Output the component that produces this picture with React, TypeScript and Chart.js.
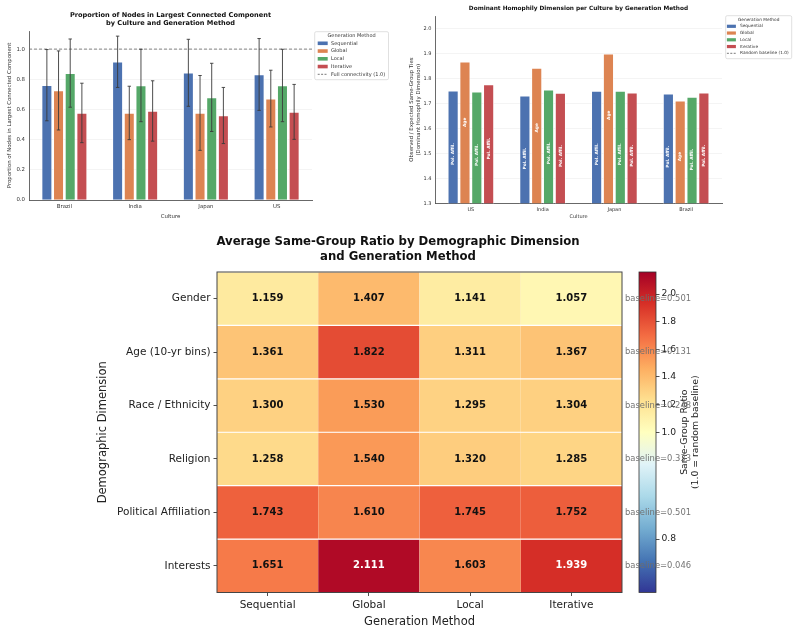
import React, { useEffect, useRef } from "react";
import { Chart, registerables } from "chart.js";
Chart.register(...registerables);

const FONT = "'DejaVu Sans', 'Liberation Sans', sans-serif";

// ---------- shared ----------
const methods = ["Sequential", "Global", "Local", "Iterative"];
const methodColors = ["#4C72B0", "#DD8452", "#55A868", "#C44E52"];

// ---------- chart 1: largest connected component ----------
const lccCultures = ["Brazil", "India", "Japan", "US"];
const lccSequential = [0.761, 0.916, 0.843, 0.832];
const lccGlobal = [0.726, 0.577, 0.577, 0.672];
const lccLocal = [0.841, 0.759, 0.680, 0.759];
const lccIterative = [0.577, 0.590, 0.560, 0.584];
const lccErrSequential = [0.236, 0.170, 0.222, 0.238];
const lccErrGlobal = [0.262, 0.177, 0.248, 0.188];
const lccErrLocal = [0.226, 0.240, 0.226, 0.240];
const lccErrIterative = [0.197, 0.200, 0.186, 0.182];
const lccTicks = [0, 0.2, 0.4, 0.6, 0.8, 1.0];
const fullConnectivity = 1.0;

// ---------- chart 2: dominant homophily ----------
const homCultures = ["US", "India", "Japan", "Brazil"];
const homSequential = [1.751, 1.731, 1.750, 1.739];
const homGlobal = [1.867, 1.842, 1.899, 1.711];
const homLocal = [1.747, 1.755, 1.750, 1.726];
const homIterative = [1.776, 1.742, 1.743, 1.743];
const domSequential = ["Pol. Affil.", "Pol. Affil.", "Pol. Affil.", "Pol. Affil."];
const domGlobal = ["Age", "Age", "Age", "Age"];
const domLocal = ["Pol. Affil.", "Pol. Affil.", "Pol. Affil.", "Pol. Affil."];
const domIterative = ["Pol. Affil.", "Pol. Affil.", "Pol. Affil.", "Pol. Affil."];
const homTicks = [1.3, 1.4, 1.5, 1.6, 1.7, 1.8, 1.9, 2.0];

// ---------- chart 3: heatmap ----------
const dimensions = ["Gender", "Age (10-yr bins)", "Race / Ethnicity", "Religion", "Political Affiliation", "Interests"];
const ratioSequential = [1.159, 1.361, 1.300, 1.258, 1.743, 1.651];
const ratioGlobal = [1.407, 1.822, 1.530, 1.540, 1.610, 2.111];
const ratioLocal = [1.141, 1.311, 1.295, 1.320, 1.745, 1.603];
const ratioIterative = [1.057, 1.367, 1.304, 1.285, 1.752, 1.939];
const baselines = [0.501, 0.131, 0.248, 0.333, 0.501, 0.046];
const colorbarTicks = [0.8, 1.0, 1.2, 1.4, 1.6, 1.8, 2.0];
const cmapMin = 0.7;
const cmapCenter = 1.0;
const cmapMax = 2.16;

const rdylbuR = ["#313695", "#4575b4", "#74add1", "#abd9e9", "#e0f3f8", "#ffffbf", "#fee090", "#fdae61", "#f46d43", "#d73027", "#a50026"];

function norm(v: number) {
  if (v < cmapCenter) return Math.max(0, 0.5 * (v - cmapMin) / (cmapCenter - cmapMin));
  return Math.min(1, 0.5 + 0.5 * (v - cmapCenter) / (cmapMax - cmapCenter));
}
function hexToRgb(h: string) {
  return [parseInt(h.slice(1, 3), 16), parseInt(h.slice(3, 5), 16), parseInt(h.slice(5, 7), 16)];
}
function cmap(t: number) {
  const p = Math.max(0, Math.min(1, t)) * 10;
  const i = Math.min(9, Math.floor(p));
  const f = p - i;
  const a = hexToRgb(rdylbuR[i]);
  const b = hexToRgb(rdylbuR[i + 1]);
  const c = a.map((x, k) => Math.round(x + (b[k] - x) * f));
  return `rgb(${c[0]},${c[1]},${c[2]})`;
}

type LegendSpec = {
  x: number; y: number; w: number; h: number; titleY: number; y0: number; dy: number;
  patchX: number; patchW: number; patchH: number; textX: number; font: number; lineLabel: string;
};

function drawLegend(ctx: CanvasRenderingContext2D, L: LegendSpec) {
  ctx.save();
  ctx.fillStyle = "rgba(255,255,255,0.9)";
  ctx.strokeStyle = "#d8d8d8";
  ctx.lineWidth = 0.8;
  ctx.beginPath();
  (ctx as any).roundRect ? (ctx as any).roundRect(L.x, L.y, L.w, L.h, 1.5) : ctx.rect(L.x, L.y, L.w, L.h);
  ctx.fill();
  ctx.stroke();
  ctx.fillStyle = "#333";
  ctx.font = `${L.font}px ${FONT}`;
  ctx.textBaseline = "middle";
  ctx.textAlign = "center";
  ctx.fillText("Generation Method", L.x + L.w / 2, L.titleY);
  ctx.textAlign = "left";
  methods.forEach((m, i) => {
    const yy = L.y0 + i * L.dy;
    ctx.fillStyle = methodColors[i];
    ctx.fillRect(L.patchX, yy - L.patchH / 2, L.patchW, L.patchH);
    ctx.fillStyle = "#333";
    ctx.fillText(m, L.textX, yy);
  });
  const yl = L.y0 + methods.length * L.dy;
  ctx.strokeStyle = "#555";
  ctx.lineWidth = 0.8;
  ctx.setLineDash([2, 1.4]);
  ctx.beginPath();
  ctx.moveTo(L.patchX, yl);
  ctx.lineTo(L.patchX + L.patchW, yl);
  ctx.stroke();
  ctx.setLineDash([]);
  ctx.fillStyle = "#333";
  ctx.fillText(L.lineLabel, L.textX, yl);
  ctx.restore();
}

function makeLcc(canvas: HTMLCanvasElement) {
  const values = [lccSequential, lccGlobal, lccLocal, lccIterative];
  const errors = [lccErrSequential, lccErrGlobal, lccErrLocal, lccErrIterative];
  const tickFont = { family: FONT, size: 5.4 };
  const plugin = {
    id: "lccExtras",
    beforeDatasetsDraw(chart: any) {
      const { ctx, chartArea } = chart;
      const y = chart.scales.y.getPixelForValue(fullConnectivity);
      ctx.save();
      ctx.strokeStyle = "#666";
      ctx.lineWidth = 0.8;
      ctx.setLineDash([3, 2]);
      ctx.beginPath();
      ctx.moveTo(chartArea.left, y);
      ctx.lineTo(chartArea.right, y);
      ctx.stroke();
      ctx.restore();
    },
    afterDatasetsDraw(chart: any) {
      const { ctx } = chart;
      const ys = chart.scales.y;
      ctx.save();
      ctx.strokeStyle = "#3a3a3a";
      ctx.lineWidth = 0.9;
      values.forEach((vals, d) => {
        const meta = chart.getDatasetMeta(d);
        meta.data.forEach((el: any, j: number) => {
          const x = el.x;
          const top = ys.getPixelForValue(vals[j] + errors[d][j]);
          const bot = ys.getPixelForValue(vals[j] - errors[d][j]);
          ctx.beginPath();
          ctx.moveTo(x, top); ctx.lineTo(x, bot);
          ctx.moveTo(x - 1.7, top); ctx.lineTo(x + 1.7, top);
          ctx.moveTo(x - 1.7, bot); ctx.lineTo(x + 1.7, bot);
          ctx.stroke();
        });
      });
      ctx.restore();
    },
    afterDraw(chart: any) {
      const { ctx, chartArea } = chart;
      const cx = (chartArea.left + chartArea.right) / 2;
      ctx.save();
      ctx.fillStyle = "#111";
      ctx.font = `bold 6.6px ${FONT}`;
      ctx.textAlign = "center";
      ctx.textBaseline = "middle";
      ctx.fillText("Proportion of Nodes in Largest Connected Component", cx, 15.3);
      ctx.fillText("by Culture and Generation Method", cx, 23);
      ctx.restore();
      drawLegend(ctx, {
        x: 314.7, y: 31.7, w: 73.8, h: 48, titleY: 35.6, y0: 43.3, dy: 7.75,
        patchX: 317.7, patchW: 10, patchH: 3.6, textX: 331, font: 5, lineLabel: "Full connectivity (1.0)",
      });
    },
  };
  return new Chart(canvas, {
    type: "bar",
    data: {
      labels: lccCultures,
      datasets: methods.map((m, i) => ({
        label: m,
        data: values[i],
        backgroundColor: methodColors[i],
        borderColor: "#ffffff",
        borderWidth: 0.8,
        categoryPercentage: 0.66,
        barPercentage: 0.91,
      })),
    },
    options: {
      animation: false,
      responsive: false,
      maintainAspectRatio: false,
      layout: { padding: { left: 0, top: 31, right: 88, bottom: 0 } },
      plugins: { legend: { display: false }, title: { display: false }, tooltip: { enabled: false } },
      scales: {
        x: {
          afterFit: (s: any) => { s.height = 22; },
          grid: { display: false, drawTicks: false },
          border: { color: "#444", width: 0.8 },
          ticks: { font: tickFont, color: "#333", padding: 3 },
          title: { display: true, text: "Culture", font: tickFont, color: "#333", padding: { top: 0, bottom: 2.5 } },
        },
        y: {
          min: 0,
          max: 1.12,
          afterFit: (s: any) => { s.width = 29; },
          afterBuildTicks: (s: any) => { s.ticks = lccTicks.map((v) => ({ value: v })); },
          grid: { color: "#ececec", lineWidth: 0.6, drawTicks: false },
          border: { color: "#444", width: 0.8 },
          ticks: { font: tickFont, color: "#333", padding: 4, callback: (v: any) => Number(v).toFixed(1) },
          title: {
            display: true,
            text: "Proportion of Nodes in Largest Connected Component",
            font: tickFont, color: "#333", padding: { top: 6, bottom: 0 },
          },
        },
      },
    },
    plugins: [plugin],
  } as any);
}

function makeHom(canvas: HTMLCanvasElement) {
  const values = [homSequential, homGlobal, homLocal, homIterative];
  const dominant = [domSequential, domGlobal, domLocal, domIterative];
  const tickFont = { family: FONT, size: 5 };
  const plugin = {
    id: "homExtras",
    afterDatasetsDraw(chart: any) {
      const { ctx } = chart;
      const ys = chart.scales.y;
      ctx.save();
      ctx.fillStyle = "#ffffff";
      ctx.font = `bold 4.3px ${FONT}`;
      ctx.textAlign = "right";
      ctx.textBaseline = "middle";
      values.forEach((vals, d) => {
        const meta = chart.getDatasetMeta(d);
        meta.data.forEach((el: any, j: number) => {
          const y = ys.getPixelForValue(vals[j] * 0.88);
          ctx.save();
          ctx.translate(el.x, y);
          ctx.rotate(-Math.PI / 2);
          ctx.fillText(dominant[d][j], 0, 0);
          ctx.restore();
        });
      });
      ctx.restore();
    },
    afterDraw(chart: any) {
      const { ctx, chartArea } = chart;
      const cx = (chartArea.left + chartArea.right) / 2;
      ctx.save();
      ctx.fillStyle = "#111";
      ctx.font = `bold 5.8px ${FONT}`;
      ctx.textAlign = "center";
      ctx.textBaseline = "middle";
      ctx.fillText("Dominant Homophily Dimension per Culture by Generation Method", cx, 8);
      ctx.restore();
      drawLegend(ctx, {
        x: 325.7, y: 15.7, w: 66, h: 43, titleY: 20, y0: 26.3, dy: 6.75,
        patchX: 326.9, patchW: 9, patchH: 3.2, textX: 340, font: 4.3, lineLabel: "Random baseline (1.0)",
      });
    },
  };
  return new Chart(canvas, {
    type: "bar",
    data: {
      labels: homCultures,
      datasets: methods.map((m, i) => ({
        label: m,
        data: values[i],
        backgroundColor: methodColors[i],
        borderColor: "#ffffff",
        borderWidth: 0.8,
        categoryPercentage: 0.66,
        barPercentage: 0.91,
      })),
    },
    options: {
      animation: false,
      responsive: false,
      maintainAspectRatio: false,
      layout: { padding: { left: 0, top: 16, right: 76, bottom: 0 } },
      plugins: { legend: { display: false }, title: { display: false }, tooltip: { enabled: false } },
      scales: {
        x: {
          afterFit: (s: any) => { s.height = 18.7; },
          grid: { display: false, drawTicks: false },
          border: { color: "#444", width: 0.8 },
          ticks: { font: tickFont, color: "#333", padding: 3 },
          title: { display: true, text: "Culture", font: tickFont, color: "#333", padding: { top: 0, bottom: 2 } },
        },
        y: {
          min: 1.3,
          max: 2.05,
          afterFit: (s: any) => { s.width = 35; },
          afterBuildTicks: (s: any) => { s.ticks = homTicks.map((v) => ({ value: v })); },
          grid: { color: "#ececec", lineWidth: 0.6, drawTicks: false },
          border: { color: "#444", width: 0.8 },
          ticks: { font: tickFont, color: "#333", padding: 3.5, callback: (v: any) => Number(v).toFixed(1) },
          title: {
            display: true,
            text: ["Observed / Expected Same-Group Ties", "(Dominant Homophily Dimension)"],
            font: { family: FONT, size: 5.4 }, color: "#333", padding: { top: 8.4, bottom: 0 },
          },
        },
      },
    },
    plugins: [plugin],
  } as any);
}

function makeHeat(canvas: HTMLCanvasElement) {
  const cols = [ratioSequential, ratioGlobal, ratioLocal, ratioIterative];
  const tickFont = { family: FONT, size: 10.5 };
  const titleFont = { family: FONT, size: 11.5 };
  const plugin = {
    id: "heatExtras",
    afterDatasetsDraw(chart: any) {
      const { ctx, chartArea } = chart;
      const ys = chart.scales.y;
      ctx.save();
      ctx.font = `bold 10px ${FONT}`;
      ctx.textAlign = "center";
      ctx.textBaseline = "middle";
      dimensions.forEach((_, r) => {
        const meta = chart.getDatasetMeta(r);
        meta.data.forEach((el: any, j: number) => {
          const v = cols[j][r];
          ctx.fillStyle = norm(v) > 0.9 ? "#ffffff" : "#111111";
          ctx.fillText(v.toFixed(3), el.x, (el.y + el.base) / 2);
        });
      });
      ctx.strokeStyle = "#444";
      ctx.lineWidth = 1;
      ctx.strokeRect(chartArea.left, chartArea.top, chartArea.right - chartArea.left, chartArea.bottom - chartArea.top);
      ctx.font = `8.4px ${FONT}`;
      ctx.textAlign = "left";
      ctx.fillStyle = "rgba(110,110,110,0.95)";
      baselines.forEach((b, r) => {
        ctx.fillText(`baseline=${b.toFixed(3)}`, chartArea.right + 3, ys.getPixelForValue(r + 0.5));
      });
      ctx.restore();
    },
    afterDraw(chart: any) {
      const { ctx } = chart;
      ctx.save();
      ctx.fillStyle = "#111";
      ctx.font = `bold 11.7px ${FONT}`;
      ctx.textAlign = "center";
      ctx.textBaseline = "middle";
      ctx.fillText("Average Same-Group Ratio by Demographic Dimension", 398, 17.3);
      ctx.fillText("and Generation Method", 398, 31.7);
      ctx.restore();
    },
  };
  return new Chart(canvas, {
    type: "bar",
    data: {
      labels: methods,
      datasets: dimensions.map((dim, r) => ({
        label: dim,
        data: methods.map(() => [r, r + 1]),
        backgroundColor: cols.map((c) => cmap(norm(c[r]))),
        borderColor: "#ffffff",
        borderWidth: { top: 0.9, bottom: 0.9, left: 0, right: 0 },
        borderSkipped: false,
        barPercentage: 1,
        categoryPercentage: 1,
        grouped: false,
      })),
    },
    options: {
      animation: false,
      responsive: false,
      maintainAspectRatio: false,
      layout: { padding: { left: 0, top: 47, right: 176, bottom: 0 } },
      plugins: { legend: { display: false }, title: { display: false }, tooltip: { enabled: false } },
      scales: {
        x: {
          afterFit: (s: any) => { s.height = 41.5; },
          grid: { display: true, drawOnChartArea: false, drawTicks: true, tickLength: 3.5, offset: false, color: "#222", lineWidth: 0.8 },
          border: { display: false },
          ticks: { font: tickFont, color: "#222", padding: 2.5 },
          title: { display: true, text: "Generation Method", font: titleFont, color: "#222", padding: { top: 0, bottom: 4.8 } },
        },
        y: {
          min: 0,
          max: dimensions.length,
          reverse: true,
          afterFit: (s: any) => { s.width = 217; },
          afterBuildTicks: (s: any) => { s.ticks = dimensions.map((_, i) => ({ value: i + 0.5 })); },
          grid: { display: true, drawOnChartArea: false, drawTicks: true, tickLength: 3.5, color: "#222", lineWidth: 0.8 },
          border: { display: false },
          ticks: { font: tickFont, color: "#222", padding: 3, autoSkip: false, callback: (_v: any, i: number) => dimensions[i] },
          title: { display: true, text: "Demographic Dimension", font: titleFont, color: "#222", padding: { top: 96, bottom: 0 } },
        },
      },
    },
    plugins: [plugin],
  } as any);
}

function makeColorbar(canvas: HTMLCanvasElement) {
  const plugin = {
    id: "cbarExtras",
    afterDatasetsDraw(chart: any) {
      const { ctx, chartArea } = chart;
      ctx.save();
      ctx.strokeStyle = "#333";
      ctx.lineWidth = 0.8;
      ctx.strokeRect(chartArea.left, chartArea.top, chartArea.right - chartArea.left, chartArea.bottom - chartArea.top);
      ctx.restore();
    },
    afterDraw(chart: any) {
      const { ctx, chartArea } = chart;
      const cy = (chartArea.top + chartArea.bottom) / 2;
      ctx.save();
      ctx.fillStyle = "#222";
      ctx.font = `9.3px ${FONT}`;
      ctx.textAlign = "center";
      ctx.textBaseline = "middle";
      ctx.translate(85, cy);
      ctx.rotate(-Math.PI / 2);
      ctx.fillText("Same-Group Ratio", 0, 0);
      ctx.fillText("(1.0 = random baseline)", 0, 11);
      ctx.restore();
    },
  };
  return new Chart(canvas, {
    type: "bar",
    data: {
      labels: [""],
      datasets: [
        {
          data: [[0, 1]],
          backgroundColor: (c: any) => {
            const a = c.chart.chartArea;
            if (!a) return "#ffffbf";
            const g = c.chart.ctx.createLinearGradient(0, a.bottom, 0, a.top);
            rdylbuR.forEach((col, k) => g.addColorStop(k / (rdylbuR.length - 1), col));
            return g;
          },
          borderWidth: 0,
          barPercentage: 1,
          categoryPercentage: 1,
        },
      ],
    },
    options: {
      animation: false,
      responsive: false,
      maintainAspectRatio: false,
      layout: { padding: { left: 39, top: 47, right: 102, bottom: 41.5 } },
      plugins: { legend: { display: false }, title: { display: false }, tooltip: { enabled: false } },
      scales: {
        x: { display: false },
        y: {
          position: "right",
          min: 0,
          max: 1,
          afterFit: (s: any) => { s.width = 40; },
          afterBuildTicks: (s: any) => { s.ticks = colorbarTicks.map((v) => ({ value: norm(v) })); },
          grid: { display: true, drawOnChartArea: false, drawTicks: true, tickLength: 3.5, color: "#222", lineWidth: 0.8 },
          border: { display: false },
          ticks: { font: { family: FONT, size: 9.2 }, color: "#222", padding: 2, autoSkip: false, callback: (_v: any, i: number) => colorbarTicks[i].toFixed(1) },
        },
      },
    },
    plugins: [plugin],
  } as any);
}

export default function App() {
  const r1 = useRef<HTMLCanvasElement>(null);
  const r2 = useRef<HTMLCanvasElement>(null);
  const r3 = useRef<HTMLCanvasElement>(null);
  const r4 = useRef<HTMLCanvasElement>(null);
  useEffect(() => {
    const charts = [
      makeLcc(r1.current!),
      makeHom(r2.current!),
      makeColorbar(r4.current!),
      makeHeat(r3.current!),
    ];
    return () => charts.forEach((c) => c.destroy());
  }, []);
  const abs = (left: number, top: number, w: number, h: number): React.CSSProperties => ({
    position: "absolute", left, top, width: w, height: h,
  });
  return (
    <div style={{ position: "absolute", left: 0, top: 0, width: 798, height: 634, background: "#fff", overflow: "hidden" }}>
      <canvas ref={r1} width={400} height={222} style={abs(0, 0, 400, 222)} />
      <canvas ref={r2} width={398} height={222} style={abs(400, 0, 398, 222)} />
      <canvas ref={r4} width={198} height={409} style={abs(600, 225, 198, 409)} />
      <canvas ref={r3} width={798} height={409} style={abs(0, 225, 798, 409)} />
    </div>
  );
}
